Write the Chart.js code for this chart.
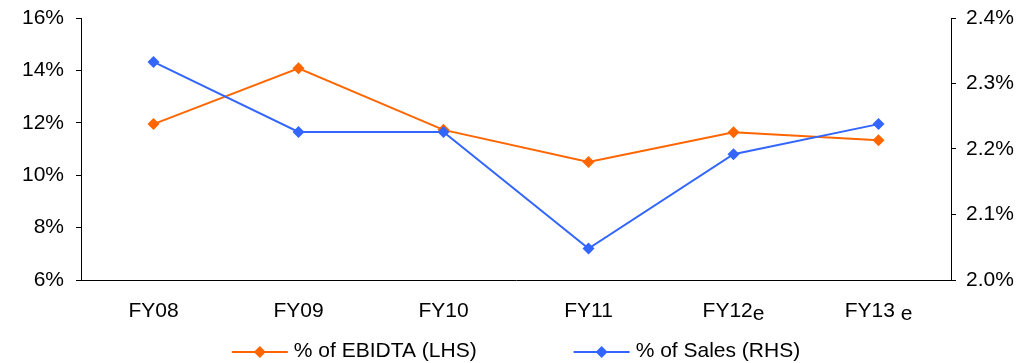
<!DOCTYPE html>
<html>
<head>
<meta charset="utf-8">
<script src="https://cdn.jsdelivr.net/npm/chart.js@4/dist/chart.umd.min.js"></script>
<style>
  html, body { margin: 0; padding: 0; background: #fff; }
  #wrap { width: 1036px; height: 363px; }
</style>
</head>
<body>
<div id="wrap"><canvas id="grafico"></canvas></div>
<script>
// dados
const categorias = ['FY08', 'FY09', 'FY10', 'FY11', 'FY12e', 'FY13 e'];
const ebidta = [11.95, 14.08, 11.73, 10.5, 11.64, 11.33];   // % (eixo esquerdo)
const vendas = [2.333, 2.226, 2.226, 2.048, 2.192, 2.238];  // % (eixo direito)
const ticksEsq = [6, 8, 10, 12, 14, 16];
const ticksDir = [2.0, 2.1, 2.2, 2.3, 2.4];

const LARANJA = '#FF6600';
const AZUL = '#3366FF';
const FONTE = '"Liberation Sans", Arial, sans-serif';
Chart.defaults.font.family = FONTE;
Chart.defaults.font.size = 21;
Chart.defaults.color = '#000';

// rótulos do eixo X com o "e" rebaixado
const rotulosX = {
    id: 'rotulosX',
    afterDraw(chart) {
        const ctx = chart.ctx;
        const x = chart.scales.x;
        ctx.save();
        ctx.font = '21px ' + FONTE;
        ctx.fillStyle = '#000';
        ctx.textBaseline = 'alphabetic';
        categorias.forEach((lab, i) => {
            const px = x.getPixelForTick(i);
            let base = lab, suf = '';
            if (lab.endsWith('e')) { base = lab.slice(0, -1); suf = 'e'; }
            const wTot = ctx.measureText(base + suf).width;
            let sx = px - wTot / 2;
            ctx.textAlign = 'left';
            ctx.fillText(base, sx, x.top + 37);
            if (suf) ctx.fillText(suf, sx + ctx.measureText(base).width, x.top + 40);
        });
        ctx.restore();
    }
};

// legenda com linha + losango
const legenda = {
    id: 'legenda',
    afterDraw(chart) {
        const ctx = chart.ctx;
        const area = chart.chartArea;
        const itens = chart.data.datasets.map(d => ({ label: d.label, cor: d.borderColor }));
        ctx.save();
        ctx.font = '21px ' + FONTE;
        const simb = 56, gap = 6, entre = 97;
        let total = 0;
        itens.forEach((it, i) => {
            it.w = ctx.measureText(it.label).width;
            total += simb + gap + it.w + (i ? entre : 0);
        });
        let x = (area.left + area.right) / 2 - total / 2;
        const y = 352;
        itens.forEach(it => {
            ctx.strokeStyle = it.cor;
            ctx.lineWidth = 2;
            ctx.beginPath();
            ctx.moveTo(x, y);
            ctx.lineTo(x + simb, y);
            ctx.stroke();
            const cx = x + simb / 2;
            ctx.fillStyle = it.cor;
            ctx.beginPath();
            ctx.moveTo(cx, y - 6);
            ctx.lineTo(cx + 6, y);
            ctx.lineTo(cx, y + 6);
            ctx.lineTo(cx - 6, y);
            ctx.closePath();
            ctx.fill();
            ctx.fillStyle = '#000';
            ctx.textAlign = 'left';
            ctx.textBaseline = 'middle';
            ctx.fillText(it.label, x + simb + gap, y - 1);
            x += simb + gap + it.w + entre;
        });
        ctx.restore();
    }
};

// fixa larguras dos eixos e zera o respiro vertical automático
function fixarEixoY(largura) {
    return function (s) {
        s.width = largura;
        s.paddingTop = 0;
        s.paddingBottom = 0;
    };
}

const ctx = document.getElementById('grafico').getContext('2d');
new Chart(ctx, {
    type: 'line',
    data: {
        labels: categorias,
        datasets: [{
            label: '% of EBIDTA (LHS)',
            data: ebidta,
            yAxisID: 'y',
            borderColor: LARANJA,
            backgroundColor: LARANJA,
            borderWidth: 2,
            pointStyle: 'rectRot',
            pointRadius: 6,
            pointBorderWidth: 0,
            tension: 0,
            order: 2
        }, {
            label: '% of Sales (RHS)',
            data: vendas,
            yAxisID: 'y1',
            borderColor: AZUL,
            backgroundColor: AZUL,
            borderWidth: 2,
            pointStyle: 'rectRot',
            pointRadius: 6,
            pointBorderWidth: 0,
            tension: 0,
            order: 1
        }]
    },
    options: {
        responsive: true,
        maintainAspectRatio: false,
        animation: false,
        events: [],
        layout: { padding: { top: 18, bottom: 43, left: 0, right: 0 } },
        plugins: {
            legend: { display: false },
            tooltip: { enabled: false }
        },
        scales: {
            x: {
                offset: true,
                grid: { display: false },
                border: { display: true, color: '#000', width: 1 },
                ticks: { color: 'rgba(0,0,0,0)' },
                afterFit(s) { s.height = 40; s.paddingLeft = 0; s.paddingRight = 0; }
            },
            y: {
                position: 'left',
                min: 6, max: 16,
                afterBuildTicks(s) { s.ticks = ticksEsq.map(v => ({ value: v })); },
                ticks: { padding: 12, callback: v => v + '%' },
                grid: { drawOnChartArea: false, color: '#000', tickLength: 5 },
                border: { color: '#000', width: 1 },
                afterFit: fixarEixoY(81)
            },
            y1: {
                position: 'right',
                min: 2.0, max: 2.4,
                afterBuildTicks(s) { s.ticks = ticksDir.map(v => ({ value: v })); },
                ticks: { padding: 10, callback: v => v.toFixed(1) + '%' },
                grid: { drawOnChartArea: false, color: '#000', tickLength: 5 },
                border: { color: '#000', width: 1 },
                afterFit: fixarEixoY(85)
            }
        }
    },
    plugins: [rotulosX, legenda]
});
</script>
</body>
</html>
